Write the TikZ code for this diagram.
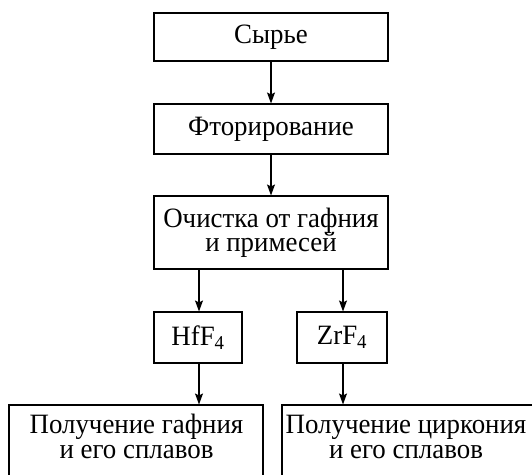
\documentclass[tikz,border=0pt]{standalone}
\usepackage{fontspec}
\setmainfont{Liberation Serif}[FakeStretch=0.96]
\usetikzlibrary{arrows.meta}
\begin{document}
\begin{tikzpicture}[x=1pt,y=-1pt,
  box/.style={draw, line width=1.1pt, inner sep=0pt, align=center,
    font=\fontsize{28}{25}\selectfont},
  ln/.style={inner sep=0pt, anchor=base, text height=19pt, text depth=5.5pt,
    font=\fontsize{28}{25}\selectfont},
  arr/.style={line width=1.1pt, -{Stealth[length=11pt,width=8pt,inset=2pt]}}]
\useasboundingbox (0,0) rectangle (532,474);
\clip (0,0) rectangle (532,474);
\node[box, minimum width=234, minimum height=48] (b1) at (271,37) {Сырье};
\node[box, minimum width=234, minimum height=50] (b2) at (271,129) {Фторирование};
\node[box, minimum width=234, minimum height=73] (b3) at (271,232.5) {};
\node[ln] (b3a) at (271,227.7) {Очистка от гафния};
\node[ln] (b3b) at (271,251.7) {и примесей};
\node[box, minimum width=88, minimum height=51] (hf) at (198,337.5) {HfF\textsubscript{4}};
\node[box, minimum width=90, minimum height=51] (zr) at (342,337.5) {ZrF\textsubscript{4}};
\node[box, minimum width=254, minimum height=72] (bl) at (136,441) {};
\node[ln] (bla) at (136.5,433) {Получение гафния};
\node[ln] (blb) at (136.5,458) {и его сплавов};
\node[box, minimum width=258, minimum height=72] (br) at (411,441) {};
\node[ln] (bra) at (406,433) {Получение циркония};
\node[ln] (brb) at (406,458) {и его сплавов};
\coordinate (b3l) at (199,269);
\coordinate (b3r) at (343,269);
\draw[arr] (b1) -- (b2);
\draw[arr] (b2) -- (b3);
\draw[arr] (b3l) -- (b3l |- hf.north);
\draw[arr] (b3r) -- (b3r |- zr.north);
\draw[arr] (b3l |- hf.south) -- (b3l |- bl.north);
\draw[arr] (b3r |- zr.south) -- (b3r |- br.north);
\end{tikzpicture}
\end{document}
